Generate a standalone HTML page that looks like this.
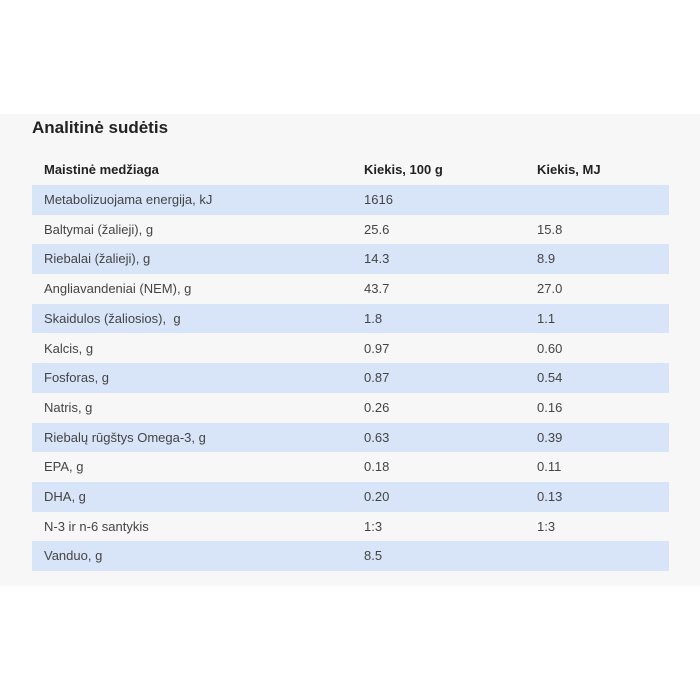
<!DOCTYPE html>
<html><head><style>
body{margin:0;width:700px;height:700px;background:#fff;font-family:"Liberation Sans",sans-serif;position:relative;overflow:hidden}
.panel{position:absolute;left:0;top:114px;width:700px;height:472px;background:#f7f7f7}
h2{position:absolute;left:32px;top:118px;margin:0;font-size:17px;font-weight:bold;color:#222}
.hdr{position:absolute;top:162px;font-size:13px;font-weight:bold;color:#222}
.row{position:absolute;left:32px;width:637px;height:29.7px;font-size:13px;color:#444}
.row.b{background:#d8e5f8}
.row span{position:absolute;top:7px}
</style></head><body>
<div class="panel"></div>
<h2>Analitinė sudėtis</h2>
<div class="hdr" style="left:44px">Maistinė medžiaga</div>
<div class="hdr" style="left:364px">Kiekis, 100 g</div>
<div class="hdr" style="left:537px">Kiekis, MJ</div>
<div class="row b" style="top:185px"><span style="left:12px">Metabolizuojama energija, kJ</span><span style="left:332px">1616</span><span style="left:505px"></span></div>
<div class="row" style="top:214.7px"><span style="left:12px">Baltymai (žalieji), g</span><span style="left:332px">25.6</span><span style="left:505px">15.8</span></div>
<div class="row b" style="top:244.4px"><span style="left:12px">Riebalai (žalieji), g</span><span style="left:332px">14.3</span><span style="left:505px">8.9</span></div>
<div class="row" style="top:274.1px"><span style="left:12px">Angliavandeniai (NEM), g</span><span style="left:332px">43.7</span><span style="left:505px">27.0</span></div>
<div class="row b" style="top:303.8px"><span style="left:12px">Skaidulos (žaliosios),&nbsp; g</span><span style="left:332px">1.8</span><span style="left:505px">1.1</span></div>
<div class="row" style="top:333.5px"><span style="left:12px">Kalcis, g</span><span style="left:332px">0.97</span><span style="left:505px">0.60</span></div>
<div class="row b" style="top:363.2px"><span style="left:12px">Fosforas, g</span><span style="left:332px">0.87</span><span style="left:505px">0.54</span></div>
<div class="row" style="top:392.9px"><span style="left:12px">Natris, g</span><span style="left:332px">0.26</span><span style="left:505px">0.16</span></div>
<div class="row b" style="top:422.6px"><span style="left:12px">Riebalų rūgštys Omega-3, g</span><span style="left:332px">0.63</span><span style="left:505px">0.39</span></div>
<div class="row" style="top:452.3px"><span style="left:12px">EPA, g</span><span style="left:332px">0.18</span><span style="left:505px">0.11</span></div>
<div class="row b" style="top:482px"><span style="left:12px">DHA, g</span><span style="left:332px">0.20</span><span style="left:505px">0.13</span></div>
<div class="row" style="top:511.7px"><span style="left:12px">N-3 ir n-6 santykis</span><span style="left:332px">1:3</span><span style="left:505px">1:3</span></div>
<div class="row b" style="top:541.4px"><span style="left:12px">Vanduo, g</span><span style="left:332px">8.5</span><span style="left:505px"></span></div>
</body></html>
